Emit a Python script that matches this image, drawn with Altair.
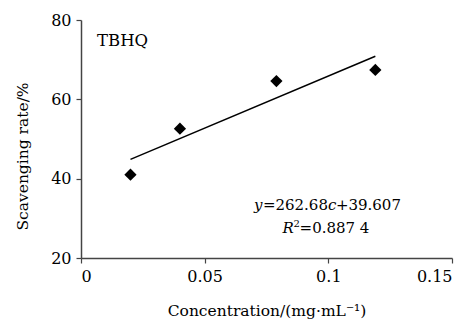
import altair as alt
import pandas as pd

conc = [0.02, 0.04, 0.079, 0.119]
rate = [41.0, 52.6, 64.6, 67.4]
slope = 262.68
intercept = 39.607
fit_x = [0.02, 0.119]
x_ticks = [0, 0.05, 0.1, 0.15]
y_ticks = [20, 40, 60, 80]

FONT = "DejaVu Serif"

pts = pd.DataFrame({"c": conc, "r": rate})
fit = pd.DataFrame({"c": fit_x, "r": [slope * v + intercept for v in fit_x]})

xs = alt.Scale(domain=[0, 0.15], nice=False, zero=False)
ys = alt.Scale(domain=[20, 80], nice=False, zero=False)

xax = alt.Axis(values=x_ticks, title="Concentration/(mg·mL⁻¹)", grid=False,
               labelExpr="datum.value == 0 ? '0' : format(datum.value, '.2~f')",
               titleY=57, titleBaseline="alphabetic", titleFontSize=15.5)
yax = alt.Axis(values=y_ticks, title="Scavenging rate/%", grid=False,
               titleX=-59, titleY=136, titleAngle=-90, titleAlign="center",
               titleBaseline="middle", titleFontSize=15.5)

base_x = alt.X("c:Q", scale=xs, axis=xax)
base_y = alt.Y("r:Q", scale=ys, axis=yax)

points = alt.Chart(pts).mark_point(shape="diamond", filled=True, color="black", size=150, opacity=1).encode(
    x=base_x, y=base_y)
line = alt.Chart(fit).mark_line(color="black", strokeWidth=1.5).encode(
    x=alt.X("c:Q", scale=xs), y=alt.Y("r:Q", scale=ys))

def txt(t, x, y, dx=0, dy=0, italic=False, size=15):
    return alt.Chart(pd.DataFrame({"c": [x], "r": [y], "t": [t]})).mark_text(
        font=FONT, fontSize=size, align="left", baseline="alphabetic", color="black",
        fontStyle="italic" if italic else "normal", dx=dx, dy=dy).encode(
        x=alt.X("c:Q", scale=xs), y=alt.Y("r:Q", scale=ys), text="t:N")

eq_x, eq_y = 0.0699, 32.1
r2_x, r2_y = 0.0815, 26.4
layers = [
    line, points,
    txt("TBHQ", 0.0065, 73.5, size=16.5),
    txt("y", eq_x, eq_y, italic=True),
    txt("=262.68", eq_x, eq_y, dx=9),
    txt("c", eq_x, eq_y, dx=74, italic=True),
    txt("+39.607", eq_x, eq_y, dx=82),
    txt("R", r2_x, r2_y, italic=True),
    txt("2", r2_x, r2_y, dx=11, dy=-6, size=10),
    txt("=0.887 4", r2_x, r2_y, dx=17),
]

chart = alt.layer(*layers).properties(
    width=371, height=238,
    autosize=alt.AutoSizeParams(type="none"),
    padding={"left": 73, "top": 12, "right": 16, "bottom": 62},
).configure_view(stroke=None).configure_axis(
    labelFont=FONT, titleFont=FONT, labelFontSize=16,
    titleFontWeight="normal", labelColor="black", titleColor="black",
    domainColor="#444", tickColor="#444", domainWidth=1.5, tickWidth=1.2, tickSize=5,
    labelPadding=5,
)

chart.save("out.html", embed_options={"renderer": "svg", "actions": False})
